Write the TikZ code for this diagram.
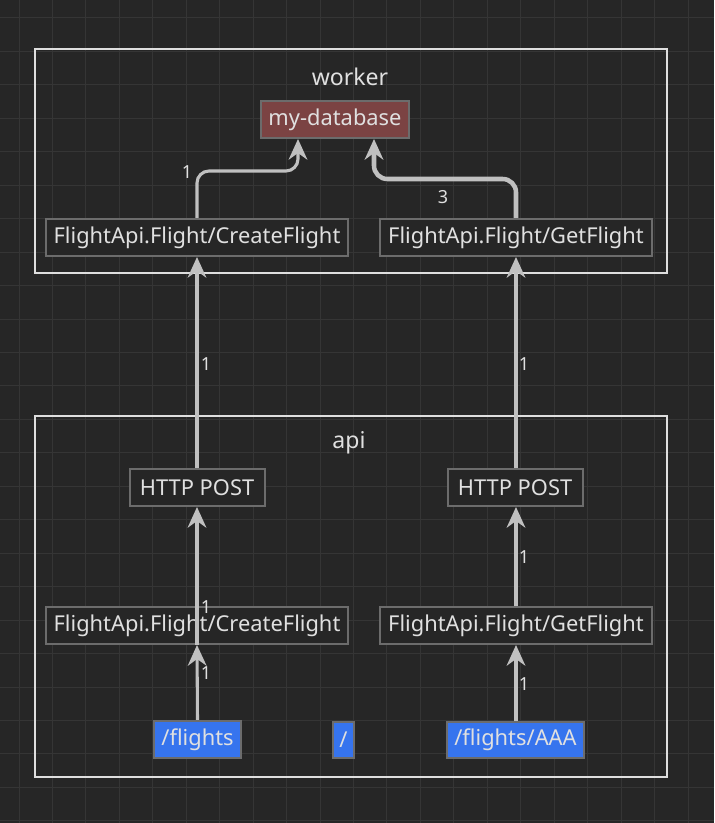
\documentclass[tikz,border=0pt]{standalone}
\usepackage{fontspec}
\setmainfont{Noto Sans}
\usetikzlibrary{arrows.meta}
\definecolor{bgc}{RGB}{38,38,38}
\definecolor{gridc}{RGB}{53,53,53}
\definecolor{framec}{RGB}{222,222,222}
\definecolor{nodeb}{RGB}{108,108,108}
\definecolor{txtc}{RGB}{224,224,224}
\definecolor{dbfill}{RGB}{123,67,67}
\definecolor{epfill}{RGB}{54,116,238}
\definecolor{arrc}{RGB}{192,192,192}
\tikzset{
  nbox/.style={draw=nodeb, line width=1.5pt, fill=bgc, text=txtc, inner sep=0pt,
    minimum height=27.75pt, font=\fontsize{16.4}{20}\selectfont},
  dbbox/.style={nbox, fill=dbfill},
  epbox/.style={nbox, fill=epfill, minimum height=27pt},
  frame/.style={draw=framec, line width=1.5pt},
  ftitle/.style={text=txtc, font=\fontsize{17.3}{20}\selectfont},
  arr/.style={draw=arrc, line width=2.3pt, -{Stealth[length=15.5pt, width=14pt, inset=5pt]}},
  arrthick/.style={arr, line width=3.4pt},
  lbl/.style={text=txtc, font=\fontsize{13.5}{15}\selectfont, inner sep=0pt}
}
\begin{document}
\begin{tikzpicture}[x=0.75pt,y=-0.75pt]
\fill[bgc] (0,0) rectangle (714,823);
\useasboundingbox (0,0) rectangle (714,823);
\foreach \i in {0,...,20} \draw[gridc, line width=0.75pt] (19+\i*33.45,0) -- (19+\i*33.45,823);
\foreach \i in {0,...,24} \draw[gridc, line width=0.75pt] (0,18+\i*33.45) -- (714,18+\i*33.45);

% containers
\draw[frame] (35,49) rectangle (667,273);
\draw[frame] (35,416) rectangle (667,777);
\node[ftitle] (tworker) at (350,77) {worker};
\node[ftitle] (tapi) at (349,443) {api};

% worker nodes
\node[dbbox, minimum width=111pt] (db) at (335,119.5) {my-database};
\node[nbox, minimum width=226.5pt] (wCreate) at (197,237.5) {FlightApi.Flight/CreateFlight};
\node[nbox, minimum width=204pt] (wGet) at (516,237.5) {FlightApi.Flight/GetFlight};

% api nodes
\node[nbox, minimum width=101.25pt] (aPost1) at (197,487.5) {HTTP POST};
\node[nbox, minimum width=101.25pt] (aPost2) at (515,487.5) {HTTP POST};
\node[nbox, minimum width=226.5pt] (aCreate) at (197,625.5) {FlightApi.Flight/CreateFlight};
\node[nbox, minimum width=204pt] (aGet) at (516,625.5) {FlightApi.Flight/GetFlight};
\node[epbox, minimum width=65.25pt, minimum height=28pt] (flights) at (197.5,739.5) {/flights};
\node[epbox, minimum width=15.75pt] (slash) at (343.5,740) {/};
\node[epbox, minimum width=102.75pt] (aaa) at (515.5,740) {/flights/AAA};

% worker edges
\coordinate (c1) at (298,171);
\draw[arr, rounded corners=9pt] (wCreate.north) |- (c1) -- (c1 |- db.south);
\node[lbl] (l1) at (187,172) {1};
\coordinate (c3) at (374,179);
\draw[arrthick, rounded corners=10pt] (wGet.north) |- (c3) -- (c3 |- db.south);
\node[lbl] (l3) at (443,197) {3};

% api -> worker
\draw[arr] (aPost1.north) -- (wCreate.south);
\node[lbl] (l4) at (206,364) {1};
\draw[arr] (aPost2.north -| wGet.south) -- (wGet.south);
\node[lbl] (l5) at (524,364) {1};

% inside api
\draw[arr] (aCreate.south) -- (aPost1.south);
\node[lbl] (l6) at (206,607) {1};
\draw[arr] (aGet.north) -- (aGet.north |- aPost2.south);
\node[lbl] (l7) at (524,557) {1};
\draw[arr] (flights.north) -- (aCreate.south);
\node[lbl] (l8) at (206,673) {1};
\draw[arr] (aaa.north -| aGet.south) -- (aGet.south);
\node[lbl] (l9) at (524,684) {1};
\end{tikzpicture}
\end{document}
